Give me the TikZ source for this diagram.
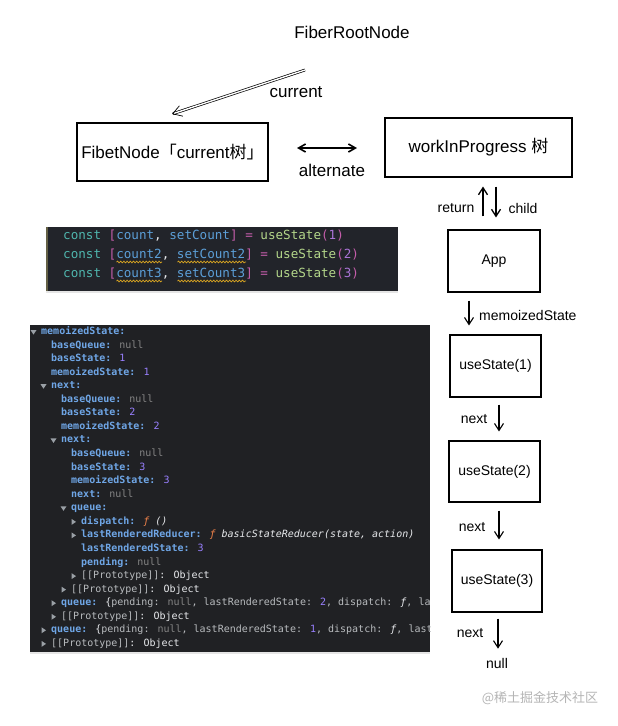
\documentclass[tikz,border=0pt]{standalone}
\usepackage{fontspec}
\setmainfont{Liberation Sans}
\newfontfamily\cjk{Noto Sans CJK SC}
\newfontfamily\mono{DejaVu Sans Mono}
\usetikzlibrary{arrows.meta,decorations.pathmorphing,shadows}
\definecolor{panelbg}{HTML}{202124}
\definecolor{codebg}{HTML}{22242A}
\definecolor{kw}{HTML}{4FB6AE}
\definecolor{brk}{HTML}{C45DAA}
\definecolor{ident}{HTML}{5C9FD8}
\definecolor{fnc}{HTML}{B4D78A}
\definecolor{numc}{HTML}{A974D6}
\definecolor{squig}{HTML}{D9A521}
\definecolor{dkeyc}{HTML}{6FA6E6}
\definecolor{dnullc}{HTML}{858585}
\definecolor{dnumc}{HTML}{9980FF}
\definecolor{dtext}{HTML}{E8EAED}
\definecolor{dgray}{HTML}{B8BBBE}
\definecolor{dfn}{HTML}{F0824A}
\definecolor{dtri}{HTML}{9AA0A6}
\definecolor{wmark}{HTML}{B5B5B5}
\newcommand{\dbkey}[1]{\textcolor{dkeyc}{\bfseries #1}}
\newcommand{\dbnull}{\textcolor{dnullc}{null}}
\newcommand{\dbnum}[1]{\textcolor{dnumc}{#1}}
\newcommand{\dbfn}{\textcolor{dfn}{\itshape ƒ}}
\newcommand{\dbproto}{\textcolor{dgray}{[[Prototype]]}\textcolor{dtext}{: Object}}
\newcommand{\dbgline}[3]{\node[dtxt] (d#1) at ({41+10*#2},{332+13.56*(#1-1)}) {#3};}
\newcommand{\dbtd}[2]{\pic at ({33.5+10*#2},{332+13.56*(#1-1)}) {tdown};}
\newcommand{\dbtr}[2]{\pic at ({33.5+10*#2},{332+13.56*(#1-1)}) {tright};}
\begin{document}
\begin{tikzpicture}[x=1pt,y=-1pt,
  big/.style={font=\fontsize{17}{20}\selectfont, inner sep=0pt},
  small/.style={font=\fontsize{14}{16}\selectfont, inner sep=0pt},
  box/.style={draw, line width=1.1pt, inner sep=0pt},
  sk/.style={line width=1.1pt, -{Straight Barb[length=7pt,width=9pt]}},
  dtxt/.style={anchor=west, inner sep=0pt, text=dtext, font=\mono\fontsize{10}{12}\selectfont, text height=7pt, text depth=2pt},
  ctxt/.style={anchor=west, inner sep=0pt, text=dtext, font=\mono\fontsize{12.6}{15}\selectfont, text height=9pt, text depth=3pt},
  tdown/.pic={\fill[dtri] (-3,-2) -- (3,-2) -- (0,2.5) -- cycle;},
  tright/.pic={\fill[dtri] (-2,-3) -- (-2,3) -- (2.5,0) -- cycle;},
  squiggle/.style={squig, line width=0.7pt, decorate, decoration={snake, amplitude=0.9pt, segment length=3.2pt}}
]
\useasboundingbox[fill=white] (0,0) rectangle (618,726);

% ---- top part ----
\node[big] (fr) at (352,32) {FiberRootNode};
\node[box, big, minimum width=191pt, minimum height=58pt] (fib) at (172.5,152) {FibetNode{\cjk 「}current{\cjk 树」}};
\node[box, big, minimum width=187pt, minimum height=59pt] (wip) at (478.5,147.5) {workInProgress {\cjk 树}};
\coordinate (cur1) at (305,70);
\coordinate (cur2) at (172,114);
\draw[line width=0.7pt, double distance=1.4pt, -{Straight Barb[length=9pt,width=11pt]}] (cur1) -- (cur2);
\node[big] (curl) at (296,92) {current};
\coordinate (alt1) at (297,148);
\coordinate (alt2) at (357,148);
\draw[line width=1.6pt, {Straight Barb[length=7pt,width=8pt]}-{Straight Barb[length=7pt,width=8pt]}] (alt1) -- (alt2);
\node[big] (altl) at (332,170) {alternate};

% ---- right column ----
\node[box, small, minimum width=92pt, minimum height=62pt] (app) at (494,261) {App};
\node[box, small, minimum width=91pt, minimum height=62pt] (us1) at (495.5,366) {useState(1)};
\node[box, small, minimum width=91pt, minimum height=61pt] (us2) at (494.5,471.5) {useState(2)};
\node[box, small, minimum width=90pt, minimum height=62pt] (us3) at (497,581) {useState(3)};
\node[small] (nul) at (497,663) {null};

\draw[sk, line width=1.3pt] ([yshift=13pt]app.north -| 483,0) -- ([yshift=-9pt]wip.south -| 483,0);
\draw[sk, line width=1.3pt] ([yshift=-9pt]wip.south -| 496,0) -- ([yshift=12pt]app.north -| 496,0);
\node[small] (retl) at (456,208) {return};
\node[small] (chl) at (523,208) {child};

\draw[sk] ([yshift=-8pt]app.south -| 469,0) -- ([yshift=9pt]us1.north -| 469,0);
\node[small, anchor=west] (msl) at (479,315) {memoizedState};

\draw[sk] ([yshift=-7pt]us1.south -| 499,0) -- ([yshift=9pt]us2.north -| 499,0);
\node[small] (n1) at (474,419) {next};
\draw[sk] ([yshift=-8pt]us2.south -| 499,0) -- ([yshift=10pt]us3.north -| 499,0);
\node[small] (n2) at (472,527) {next};
\draw[sk] ([yshift=-6pt]us3.south -| 498,0) -- ([yshift=9pt]nul.north -| 498,0);
\node[small] (n3) at (470,633) {next};

\node[font=\cjk\fontsize{13}{15}\selectfont, text=wmark, inner sep=0pt] (wm) at (540,698) {@稀土掘金技术社区};

% ---- code panel ----
\fill[codebg, drop shadow={opacity=0.2, shadow xshift=0pt, shadow yshift=-1.5pt}] (46,227) rectangle (398,291);
\fill[black!70!yellow] (46,227) rectangle (47.5,291);
\node[ctxt] (c1) at (63,236) {\textcolor{kw}{const} \textcolor{brk}{[}\textcolor{ident}{count}\textcolor{dtext}{,} \textcolor{ident}{setCount}\textcolor{brk}{]} \textcolor{brk}{=} \textcolor{fnc}{useState}\textcolor{brk}{(}\textcolor{numc}{1}\textcolor{brk}{)}};
\node[ctxt] (c2) at (63,255) {\textcolor{kw}{const} \textcolor{brk}{[}\textcolor{ident}{count2}\textcolor{dtext}{,} \textcolor{ident}{setCount2}\textcolor{brk}{]} \textcolor{brk}{=} \textcolor{fnc}{useState}\textcolor{brk}{(}\textcolor{numc}{2}\textcolor{brk}{)}};
\node[ctxt] (c3) at (63,274) {\textcolor{kw}{const} \textcolor{brk}{[}\textcolor{ident}{count3}\textcolor{dtext}{,} \textcolor{ident}{setCount3}\textcolor{brk}{]} \textcolor{brk}{=} \textcolor{fnc}{useState}\textcolor{brk}{(}\textcolor{numc}{3}\textcolor{brk}{)}};
\draw[squiggle] (116.5,262) -- (162,262);
\draw[squiggle] (177.5,262) -- (246,262);
\draw[squiggle] (116.5,281) -- (162,281);
\draw[squiggle] (177.5,281) -- (246,281);

% ---- devtools panel ----
\fill[panelbg, drop shadow={opacity=0.2, shadow xshift=0pt, shadow yshift=-1.5pt}] (30,325) rectangle (430,652);
\begin{scope}
\clip (30,325) rectangle (430,652);
\dbtd{1}{0}\dbgline{1}{0}{\dbkey{memoizedState:}}
\dbgline{2}{1}{\dbkey{baseQueue:} \dbnull}
\dbgline{3}{1}{\dbkey{baseState:} \dbnum{1}}
\dbgline{4}{1}{\dbkey{memoizedState:} \dbnum{1}}
\dbtd{5}{1}\dbgline{5}{1}{\dbkey{next:}}
\dbgline{6}{2}{\dbkey{baseQueue:} \dbnull}
\dbgline{7}{2}{\dbkey{baseState:} \dbnum{2}}
\dbgline{8}{2}{\dbkey{memoizedState:} \dbnum{2}}
\dbtd{9}{2}\dbgline{9}{2}{\dbkey{next:}}
\dbgline{10}{3}{\dbkey{baseQueue:} \dbnull}
\dbgline{11}{3}{\dbkey{baseState:} \dbnum{3}}
\dbgline{12}{3}{\dbkey{memoizedState:} \dbnum{3}}
\dbgline{13}{3}{\dbkey{next:} \dbnull}
\dbtd{14}{3}\dbgline{14}{3}{\dbkey{queue:}}
\dbtr{15}{4}\dbgline{15}{4}{\dbkey{dispatch:} \dbfn{} \textit{()}}
\dbtr{16}{4}\dbgline{16}{4}{\dbkey{lastRenderedReducer:} \dbfn{} \textit{basicStateReducer(state, action)}}
\dbgline{17}{4}{\dbkey{lastRenderedState:} \dbnum{3}}
\dbgline{18}{4}{\dbkey{pending:} \dbnull}
\dbtr{19}{4}\dbgline{19}{4}{\dbproto}
\dbtr{20}{3}\dbgline{20}{3}{\dbproto}
\dbtr{21}{2}\dbgline{21}{2}{\dbkey{queue:} \textcolor{dtext}{\{}\textcolor{dgray}{pending:} \dbnull\textcolor{dgray}{, lastRenderedState:} \dbnum{2}\textcolor{dgray}{, dispatch:} \textit{ƒ}\textcolor{dgray}{, las}}
\dbtr{22}{2}\dbgline{22}{2}{\dbproto}
\dbtr{23}{1}\dbgline{23}{1}{\dbkey{queue:} \textcolor{dtext}{\{}\textcolor{dgray}{pending:} \dbnull\textcolor{dgray}{, lastRenderedState:} \dbnum{1}\textcolor{dgray}{, dispatch:} \textit{ƒ}\textcolor{dgray}{, last}}
\dbtr{24}{1}\dbgline{24}{1}{\dbproto}
\end{scope}
\end{tikzpicture}
\end{document}
